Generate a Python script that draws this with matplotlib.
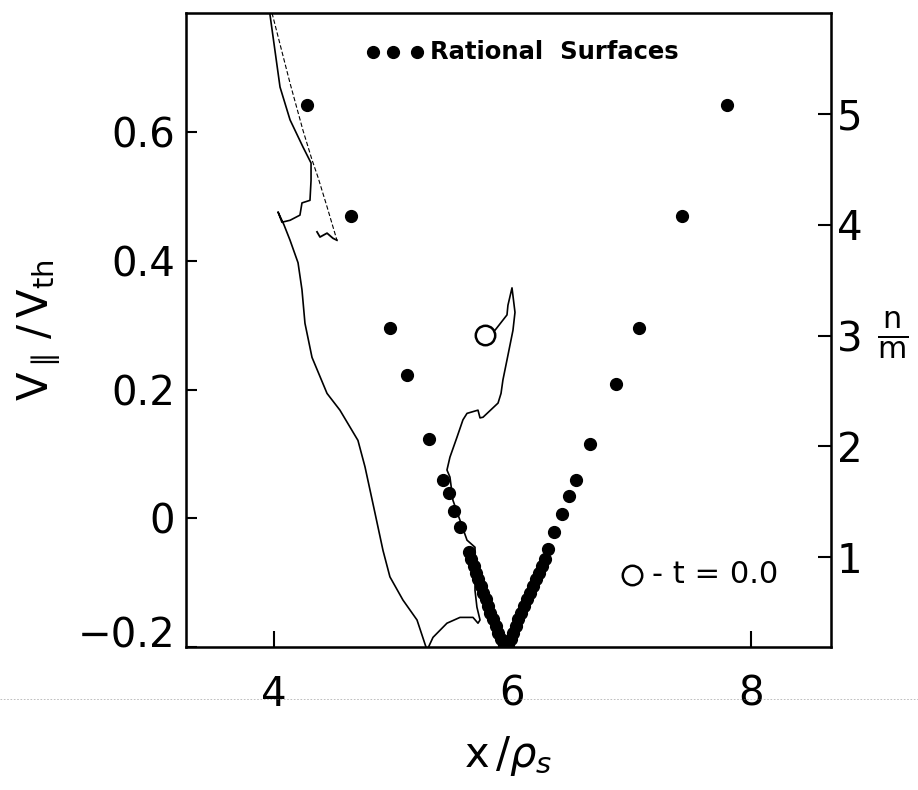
import numpy as np
import matplotlib
matplotlib.use('Agg')
import matplotlib.pyplot as plt
from matplotlib.lines import Line2D

# font
plt.rcParams['font.family'] = ['DejaVu Sans']
plt.rcParams['mathtext.fontset'] = 'dejavusans'

# trajectory V||/Vth vs x/rho_s (starts at open circle, t=0)
traj_x = [5.771, 5.854, 5.955, 5.963, 5.997, 6.022, 6.005, 5.980, 5.955, 5.921, 5.905, 5.880,
          5.754, 5.729, 5.712, 5.620, 5.586, 5.536, 5.477, 5.452, 5.477, 5.502, 5.561, 5.620,
          5.687, 5.687, 5.703, 5.729, 5.712, 5.670, 5.561, 5.452, 5.335, 5.285,
          5.201, 5.083, 4.974, 4.916, 4.849, 4.765, 4.706, 4.555, 4.447, 4.321, 4.262,
          4.237, 4.204, 4.137, 4.086, 4.036, 4.069, 4.137, 4.220, 4.237, 4.304, 4.313,
          4.313, 4.245, 4.137, 4.053, 3.952]
traj_v = [0.285, 0.292, 0.316, 0.331, 0.358, 0.320, 0.292, 0.269, 0.246, 0.215, 0.194, 0.179,
          0.157, 0.156, 0.168, 0.163, 0.153, 0.126, 0.095, 0.075, 0.064, 0.028, -0.003, -0.034,
          -0.045, -0.112, -0.138, -0.158, -0.163, -0.154, -0.154, -0.163, -0.185, -0.205,
          -0.158, -0.127, -0.091, -0.050, 0.008, 0.080, 0.121, 0.168, 0.194, 0.250, 0.303,
          0.355, 0.397, 0.432, 0.456, 0.476, 0.460, 0.463, 0.471, 0.490, 0.494, 0.525,
          0.552, 0.577, 0.619, 0.670, 0.805]

# faint second branch near the top
faint_x = [3.986, 4.137, 4.245, 4.321, 4.371, 4.447, 4.530]
faint_v = [0.785, 0.676, 0.603, 0.557, 0.530, 0.484, 0.432]
hook_x = [4.530, 4.497, 4.447, 4.388, 4.363]
hook_v = [0.432, 0.435, 0.443, 0.437, 0.445]

# rational surfaces (n/m on right axis)
left_x = [4.279, 4.648, 4.974, 5.117, 5.301, 5.419, 5.469, 5.511, 5.561, 5.637,
          5.655, 5.675, 5.695, 5.715, 5.735, 5.755, 5.775, 5.795, 5.815, 5.835, 5.86, 5.88, 5.905, 5.93]
left_nm = [5.08, 4.08, 3.07, 2.64, 2.07, 1.70, 1.58, 1.42, 1.27, 1.05,
           0.98, 0.92, 0.86, 0.80, 0.74, 0.68, 0.62, 0.56, 0.50, 0.44, 0.38, 0.32, 0.26, 0.21]
right_x = [7.80, 7.42, 7.06, 6.868, 6.651, 6.533, 6.475, 6.416, 6.349, 6.298,
           6.275, 6.25, 6.225, 6.20, 6.175, 6.15, 6.125, 6.10, 6.075, 6.05, 6.03, 6.005, 5.985, 5.963]
right_nm = [5.08, 4.08, 3.07, 2.56, 2.02, 1.70, 1.55, 1.39, 1.23, 1.07,
            0.98, 0.92, 0.86, 0.80, 0.74, 0.68, 0.62, 0.56, 0.50, 0.44, 0.38, 0.32, 0.26, 0.21]

fig = plt.figure(figsize=(9.18, 7.9), dpi=100)
ax = fig.add_axes([0.2026, 0.181, 0.7026, 0.8025])
ax.plot(traj_x, traj_v, color='black', lw=1.2)
ax.plot(faint_x, faint_v, color='black', lw=0.8, linestyle=(0, (4, 2)))
ax.plot(hook_x, hook_v, color='black', lw=1.3)
ax.plot(traj_x[0], traj_v[0], 'o', ms=14, mfc='white', mec='black', mew=1.8, zorder=5)
ax.set_xlim(3.265, 8.67)
ax.set_ylim(-0.2, 0.785)
ax.set_xticks([4, 6, 8])
ax.set_yticks([-0.2, 0, 0.2, 0.4, 0.6])
ax.set_yticklabels(['\u22120.2', '0', '0.2', '0.4', '0.6'])
ax.get_yticklabels()[0].set_verticalalignment('baseline')
ax.tick_params(axis='y', direction='in', length=8, width=1.5, labelsize=29, pad=8)
ax.tick_params(axis='x', direction='in', length=11.5, width=1.5, labelsize=29, pad=20)
for s in ax.spines.values():
    s.set_linewidth(1.8)
ax.set_ylabel(r'$\mathrm{V_{\parallel}\,/\,V_{th}}$', fontsize=30, labelpad=10)
ax.set_xlabel(r'$\mathrm{x}\,/\rho_s$', fontsize=30, labelpad=14)

ax2 = ax.twinx()
ax2.plot(left_x, left_nm, 'o', color='black', ms=8.5)
ax2.plot(right_x, right_nm, 'o', color='black', ms=8.5)
ax2.set_ylim(0.19, 5.91)
ax2.set_yticks([1, 2, 3, 4, 5])
ax2.tick_params(axis='y', direction='in', length=9.5, width=1.5, labelsize=29, pad=4)
ax2.text(1.072, 3, r'$\frac{\mathrm{n}}{\mathrm{m}}$', transform=ax2.get_yaxis_transform(),
         fontsize=31, va='center', ha='left')

# legends drawn as text
ax.plot([4.832, 4.999, 5.201], [0.724, 0.724, 0.724], 'o', color='black', ms=8.5)
ax.text(5.31, 0.724, 'Rational  Surfaces', fontsize=17.5, fontweight='bold', va='center')
ax.plot(7.002, -0.088, 'o', ms=14, mfc='white', mec='black', mew=1.8)
ax.text(7.17, -0.088, '- t = 0.0', fontsize=22, va='center')

# scan line artifact
fig.add_artist(Line2D([0, 1], [1 - 699 / 790, 1 - 699 / 790], color='gray', lw=0.6,
                      linestyle=(0, (2, 2)), alpha=0.6))

fig.savefig('out.png', dpi=100)
